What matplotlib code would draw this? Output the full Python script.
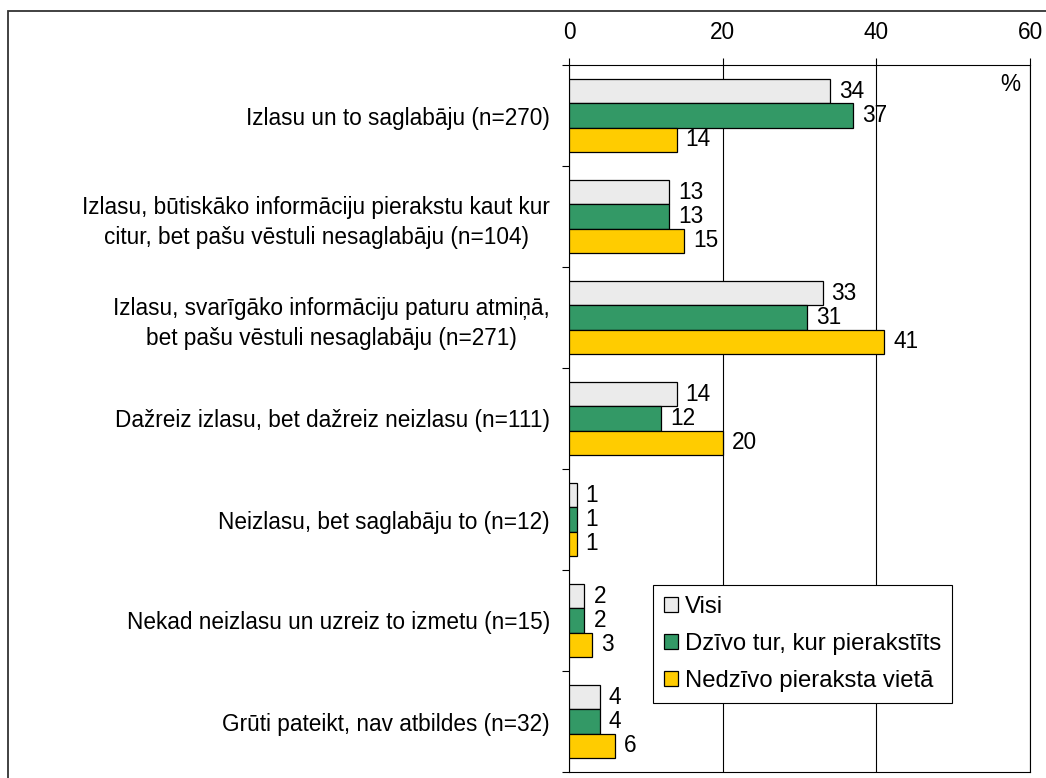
import matplotlib
matplotlib.use("Agg")
import matplotlib.pyplot as plt
from matplotlib.patches import Rectangle
from matplotlib.transforms import offset_copy
import numpy as np

plt.rcParams['font.family'] = ['Liberation Sans', 'DejaVu Sans']

categories = [
    "Izlasu un to saglabāju (n=270)",
    "Izlasu, būtiskāko informāciju pierakstu kaut kur\ncitur, bet pašu vēstuli nesaglabāju (n=104)",
    "Izlasu, svarīgāko informāciju paturu atmiņā,\nbet pašu vēstuli nesaglabāju (n=271)",
    "Dažreiz izlasu, bet dažreiz neizlasu (n=111)",
    "Neizlasu, bet saglabāju to (n=12)",
    "Nekad neizlasu un uzreiz to izmetu (n=15)",
    "Grūti pateikt, nav atbildes (n=32)",
]
series_names = ["Visi", "Dzīvo tur, kur pierakstīts", "Nedzīvo pieraksta vietā"]
visi = [34, 13, 33, 14, 1, 2, 4]
dzivo = [37, 13, 31, 12, 1, 2, 4]
nedzivo = [14, 15, 41, 20, 1, 3, 6]
x_ticks = [0, 20, 40, 60]

colors = ["#EBEBEB", "#339966", "#FFCC00"]
series = [visi, dzivo, nedzivo]
FS = 16.3

W, H = 1046, 778
fig = plt.figure(figsize=(W / 100, H / 100), dpi=100)
fig.patches.append(Rectangle((8 / W, -0.02), 1.05, 1 - 11 / H + 0.02,
                             transform=fig.transFigure, fill=False,
                             edgecolor="#333333", linewidth=1.3))

left, right, top, bottom = 569, 1030, 65, 772
ax = fig.add_axes([left / W, 1 - bottom / H, (right - left) / W, (bottom - top) / H])

n = len(categories)
y = np.arange(n)
h = 0.238
for i, (vals, col, name) in enumerate(zip(series, colors, series_names)):
    bars = ax.barh(y + (i - 1) * h, vals, height=h, color=col, edgecolor="black",
                   linewidth=0.9, label=name, zorder=3)
    for b, v in zip(bars, vals):
        ax.annotate(str(v), (b.get_width(), b.get_y() + b.get_height() / 2),
                    xytext=(6.5, 0), textcoords="offset points", va="center",
                    ha="left", fontsize=FS, zorder=4)

ax.set_xlim(0, 60)
ax.set_ylim(n - 0.5, -0.5)
ax.xaxis.tick_top()
ax.set_xticks(x_ticks)
ax.tick_params(axis="x", direction="out", length=5, width=0.8, pad=10, labelsize=FS)
ax.set_yticks(y)
ax.set_yticklabels(categories, ha="center", multialignment="center", linespacing=1.4)
ax.tick_params(axis="y", which="major", length=0, pad=0, labelsize=FS)
ax.set_yticks(np.arange(-0.5, n, 1), minor=True)
ax.tick_params(axis="y", which="minor", direction="out", length=5, width=0.8)
ax.grid(axis="x", color="black", linewidth=0.8, zorder=0)
for s in ax.spines.values():
    s.set_linewidth(0.8)
    s.set_color("black")

fig.canvas.draw()
renderer = fig.canvas.get_renderer()
for lbl in ax.get_yticklabels():
    bb = lbl.get_window_extent(renderer)
    lbl.set_x(0)
    lbl.set_transform(offset_copy(ax.get_yaxis_transform(), fig=fig,
                                  x=-(19 + bb.width / 2), y=0, units="dots"))

ax.text(0.957, 0.973, "%", transform=ax.transAxes, fontsize=FS, ha="center", va="center")

leg = ax.legend(loc="upper left", bbox_to_anchor=(0.182, 0.2645), fontsize=17.2,
                frameon=True, fancybox=False, edgecolor="black", framealpha=1,
                handlelength=0.6, handleheight=0.6, handletextpad=0.3,
                labelspacing=0.63, borderpad=0.45, borderaxespad=0)
leg.get_frame().set_linewidth(0.8)

fig.savefig("out.png", dpi=100)
